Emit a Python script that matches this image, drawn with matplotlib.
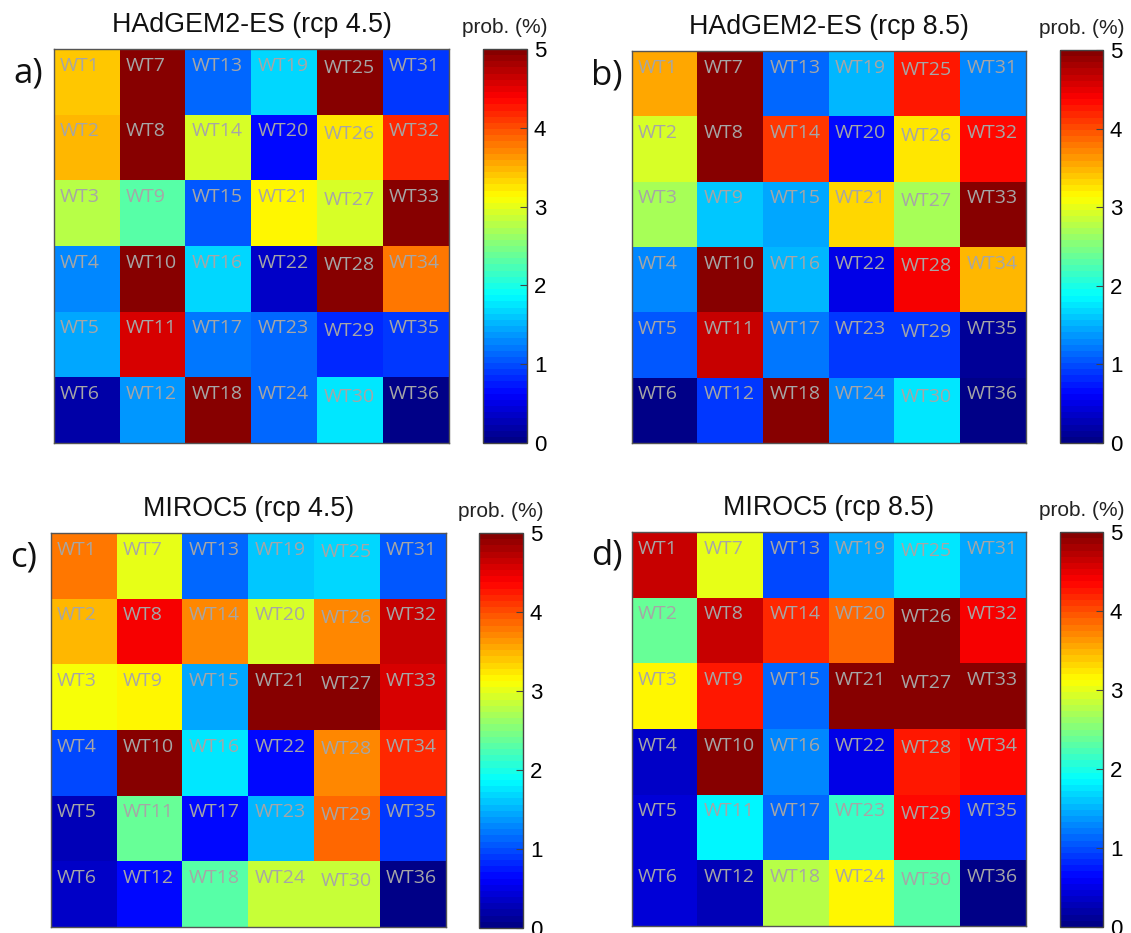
import numpy as np
import matplotlib
matplotlib.use("Agg")
import matplotlib.pyplot as plt
from matplotlib.colors import Normalize, ListedColormap

# ---------------- data (probability %, rows top->bottom, cols left->right) ----
titles = ["HAdGEM2-ES (rcp 4.5)", "HAdGEM2-ES (rcp 8.5)",
          "MIROC5 (rcp 4.5)", "MIROC5 (rcp 8.5)"]
panel_letters = ["a)", "b)", "c)", "d)"]
cbar_label = "prob. (%)"
cbar_ticks = [0, 1, 2, 3, 4, 5]

had45 = [
    [3.40, 5.00, 1.17, 1.70, 5.00, 0.92],
    [3.50, 5.00, 2.95, 0.70, 3.25, 4.20],
    [2.75, 2.30, 1.05, 3.15, 2.95, 5.00],
    [1.30, 5.00, 1.68, 0.35, 5.00, 3.75],
    [1.43, 4.55, 1.23, 1.10, 0.85, 0.87],
    [0.16, 1.35, 5.00, 1.15, 1.78, 0.05],
]
had85 = [
    [3.55, 5.00, 1.17, 1.55, 4.23, 1.26],
    [2.93, 5.00, 4.07, 0.70, 3.22, 4.30],
    [2.70, 1.60, 1.48, 3.33, 2.72, 5.00],
    [1.30, 5.00, 1.55, 0.50, 4.45, 3.50],
    [1.05, 4.62, 1.20, 0.87, 0.92, 0.10],
    [0.07, 0.87, 5.00, 1.26, 1.73, 0.05],
]
miroc45 = [
    [3.78, 3.03, 1.17, 1.57, 1.70, 1.08],
    [3.50, 4.38, 3.73, 2.95, 3.68, 4.67],
    [3.10, 3.13, 1.46, 5.00, 5.00, 4.58],
    [0.96, 5.00, 1.78, 0.68, 3.68, 4.20],
    [0.31, 2.36, 0.66, 1.53, 3.85, 0.87],
    [0.35, 0.67, 2.34, 2.86, 2.88, 0.03],
]
miroc85 = [
    [4.68, 2.98, 0.96, 1.41, 1.78, 1.41],
    [2.36, 4.65, 4.20, 3.85, 5.00, 4.42],
    [3.14, 4.25, 1.10, 5.00, 5.00, 4.97],
    [0.35, 5.00, 1.26, 0.48, 4.22, 4.35],
    [0.45, 1.85, 1.17, 2.17, 4.30, 0.83],
    [0.42, 0.25, 2.80, 3.13, 2.34, 0.03],
]
panels = [had45, had85, miroc45, miroc85]

# ---------------- MATLAB-style jet (64 levels) -------------------------------
_v = (np.arange(64) + 0.5) / 64
_rgb = np.stack([np.clip(1.5 - np.abs(4 * _v - 3), 0, 1),
                 np.clip(1.5 - np.abs(4 * _v - 2), 0, 1),
                 np.clip(1.5 - np.abs(4 * _v - 1), 0, 1)], axis=1)
cmap = ListedColormap(_rgb, name="matlab_jet")
norm = Normalize(vmin=0, vmax=5)

# ---------------- layout (pixels) ------------------------------------------
W, H = 1131, 933
ax_px = [(54, 449, 49, 443), (632, 1026, 51, 443),
         (51, 446, 533, 927), (632, 1026, 532, 926)]
cb_px = [(483, 527, 49, 443), (1060, 1103, 50, 443),
         (479, 523, 533, 928), (1060, 1103, 532, 927)]

def rect(l, r, t, b):
    return [l / W, 1 - b / H, (r - l) / W, (b - t) / H]

fig = plt.figure(figsize=(W / 100, H / 100), dpi=100)
fig.patch.set_facecolor("white")

txt_color = "#a6a6a6"
col_dy = [0, 0, 0, 0, 0.04, 0]

for k in range(4):
    data = np.array(panels[k])
    ax = fig.add_axes(rect(*ax_px[k]))
    ax.imshow(data, cmap=cmap, norm=norm, aspect="auto",
              extent=(0, 6, 6, 0), interpolation="nearest")
    ax.set_xlim(0, 6)
    ax.set_ylim(6, 0)
    ax.set_xticks([])
    ax.set_yticks([])
    for s in ax.spines.values():
        s.set_color("#555555")
        s.set_linewidth(1.0)
    for c in range(6):
        for r in range(6):
            ax.text(c + 0.09, r + 0.33 + col_dy[c], f"WT{c * 6 + r + 1}",
                    color=txt_color, fontsize=14, family="Open Sans",
                    ha="left", va="baseline")
    # title
    l, rr, t, b = ax_px[k]
    fig.text(((l + rr) / 2) / W, 1 - (t - 17) / H, titles[k],
             fontsize=19.3, family="Liberation Sans", ha="center",
             va="baseline", color="#111111")
    # panel letter
    fig.text((l - 41) / W, 1 - (t + 33) / H, panel_letters[k],
             fontsize=25, family="Open Sans", ha="left", va="baseline",
             color="#111111")

    # colorbar
    cax = fig.add_axes(rect(*cb_px[k]))
    sm = matplotlib.cm.ScalarMappable(norm=norm, cmap=cmap)
    cb = fig.colorbar(sm, cax=cax, ticks=cbar_ticks)
    cb.outline.set_edgecolor("#444444")
    cb.outline.set_linewidth(1.0)
    cax.tick_params(direction="in", length=5, width=0.8, color="#444444",
                    labelsize=16, pad=5)
    for lab in cax.get_yticklabels():
        lab.set_family("Liberation Sans")
    cl, cr, ct, cbm = cb_px[k]
    fig.text(((cl + cr) / 2) / W, 1 - (ct - 16) / H, cbar_label,
             fontsize=15, family="Liberation Sans", ha="center",
             va="baseline", color="#222222")

fig.savefig("out.png", dpi=100, facecolor="white")
